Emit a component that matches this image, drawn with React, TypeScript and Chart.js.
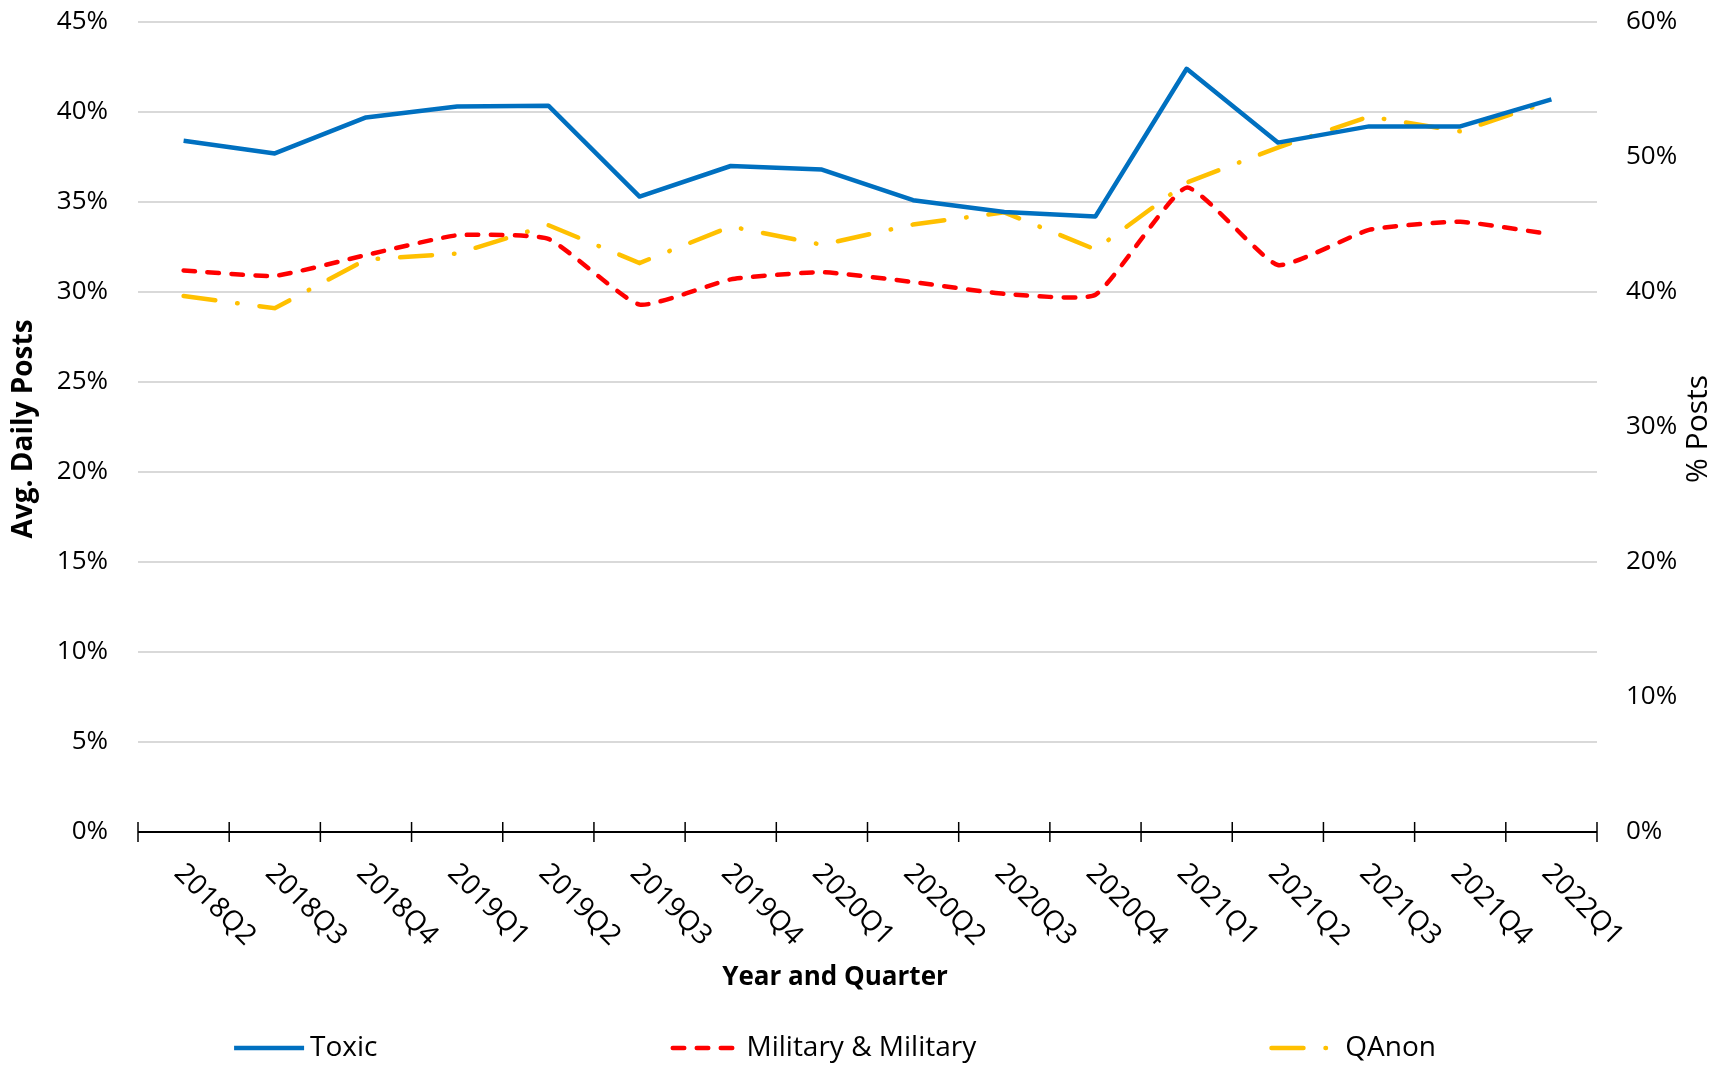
import React, { useEffect, useRef } from "react";
import { Chart, registerables } from "chart.js";

Chart.register(...registerables);

// ---------- data ----------
const categories = [
  "2018Q2", "2018Q3", "2018Q4", "2019Q1", "2019Q2", "2019Q3", "2019Q4", "2020Q1",
  "2020Q2", "2020Q3", "2020Q4", "2021Q1", "2021Q2", "2021Q3", "2021Q4", "2022Q1",
];
// left axis (Avg. Daily Posts, %)
const toxic = [38.4, 37.7, 39.7, 40.3, 40.35, 35.3, 37.0, 36.8, 35.1, 34.45, 34.2, 42.4, 38.3, 39.2, 39.2, 40.7];
const military = [31.2, 30.9, 32.05, 33.15, 32.95, 29.3, 30.7, 31.1, 30.55, 29.9, 29.85, 35.8, 31.5, 33.45, 33.9, 33.2];
// right axis (% Posts)
const qanon = [39.7, 38.8, 42.4, 42.85, 44.95, 42.15, 44.85, 43.5, 45.0, 45.9, 43.15, 48.1, 50.7, 53.0, 51.9, 54.15];

const seriesNames = ["Toxic", "Military & Military", "QAnon"];
const leftAxis = { min: 0, max: 45, step: 5 };
const rightAxis = { min: 0, max: 60, step: 10 };
const leftTitle = "Avg. Daily Posts";
const rightTitle = "% Posts";
const xTitle = "Year and Quarter";

// ---------- style ----------
const FONT = "'Open Sans', 'Noto Sans', sans-serif";
const W = 1723;
const H = 1066;
const colors = { toxic: "#0070C0", military: "#FF0000", qanon: "#FFC000" };

const customPlugin = {
  id: "excelDecor",
  afterDraw(chart: any) {
    const { ctx, chartArea, scales } = chart;
    const xs = scales.x;
    const y0 = chartArea.bottom;
    const n = categories.length;
    const step = (chartArea.right - chartArea.left) / n;
    ctx.save();
    // axis line
    ctx.strokeStyle = "#000";
    ctx.lineWidth = 2;
    ctx.beginPath();
    ctx.moveTo(chartArea.left, y0);
    ctx.lineTo(chartArea.right, y0);
    ctx.stroke();
    // tick marks
    ctx.lineWidth = 1.5;
    for (let i = 0; i <= n; i++) {
      const px = chartArea.left + i * step;
      ctx.beginPath();
      ctx.moveTo(px, y0 - 10);
      ctx.lineTo(px, y0 + 10);
      ctx.stroke();
    }
    // x tick labels rotated 45deg clockwise
    ctx.fillStyle = "#000";
    ctx.font = `28px ${FONT}`;
    ctx.textAlign = "left";
    ctx.textBaseline = "top";
    for (let i = 0; i < n; i++) {
      const cx = xs.getPixelForValue(i);
      ctx.save();
      ctx.translate(cx + 5, y0 + 27);
      ctx.rotate(Math.PI / 4);
      ctx.fillText(categories[i], 0, 0);
      ctx.restore();
    }
    // x title
    ctx.font = `bold 26px ${FONT}`;
    ctx.textAlign = "center";
    ctx.textBaseline = "middle";
    ctx.fillText(xTitle, 835, 978);
    // left title
    ctx.save();
    ctx.font = `bold 28px ${FONT}`;
    ctx.translate(24, (chartArea.top + chartArea.bottom) / 2 + 2);
    ctx.rotate(-Math.PI / 2);
    ctx.fillText(leftTitle, 0, 0);
    ctx.restore();
    // right title
    ctx.save();
    ctx.font = `30px ${FONT}`;
    ctx.translate(1698, (chartArea.top + chartArea.bottom) / 2 + 2);
    ctx.rotate(-Math.PI / 2);
    ctx.fillText(rightTitle, 0, 0);
    ctx.restore();

    // legend
    const ly = 1048;
    const sample = 70;
    const gapText = 6;
    const gapItem = 293;
    ctx.font = `28px ${FONT}`;
    const ds = chart.data.datasets;
    const widths = ds.map((d: any) => sample + gapText + ctx.measureText(d.label).width);
    const total = widths.reduce((a: number, b: number) => a + b, 0) + gapItem * (ds.length - 1);
    let lx = 835 - total / 2;
    ds.forEach((d: any, k: number) => {
      ctx.save();
      ctx.strokeStyle = d.borderColor;
      ctx.lineWidth = d.borderWidth;
      ctx.lineCap = d.borderCapStyle || "butt";
      ctx.setLineDash(d.borderDash || []);
      ctx.beginPath();
      const inset = d.borderCapStyle === "round" ? d.borderWidth / 2 : 0;
      ctx.moveTo(lx + inset, ly);
      ctx.lineTo(lx + sample - inset, ly);
      ctx.stroke();
      ctx.restore();
      ctx.textAlign = "left";
      ctx.textBaseline = "middle";
      ctx.fillStyle = "#000";
      ctx.fillText(d.label, lx + sample + gapText, ly);
      lx += widths[k] + gapItem;
    });
    ctx.restore();
  },
};

export default function App() {
  const canvasRef = useRef<HTMLCanvasElement | null>(null);

  useEffect(() => {
    const canvas = canvasRef.current;
    if (!canvas) return;
    const chart = new Chart(canvas, {
      type: "line",
      data: {
        labels: categories,
        datasets: [
          {
            label: seriesNames[0],
            data: toxic,
            yAxisID: "y",
            borderColor: colors.toxic,
            backgroundColor: colors.toxic,
            borderWidth: 4.5,
            pointRadius: 0,
            tension: 0,
            borderJoinStyle: "round",
          },
          {
            label: seriesNames[1],
            data: military,
            yAxisID: "y",
            borderColor: colors.military,
            backgroundColor: colors.military,
            borderWidth: 4.5,
            borderDash: [11.5, 12.5],
            borderCapStyle: "round",
            pointRadius: 0,
            tension: 0.15,
          },
          {
            label: seriesNames[2],
            data: qanon,
            yAxisID: "y1",
            borderColor: colors.qanon,
            backgroundColor: colors.qanon,
            borderWidth: 4.5,
            borderDash: [32, 22, 0.5, 22],
            borderCapStyle: "round",
            pointRadius: 0,
            tension: 0,
          },
        ],
      },
      options: {
        animation: false,
        responsive: false,
        maintainAspectRatio: false,
        devicePixelRatio: 1,
        layout: { padding: { top: 22, left: 0, right: 0, bottom: 0 } },
        plugins: {
          legend: { display: false },
          tooltip: { enabled: false },
        },
        scales: {
          x: {
            type: "category",
            offset: true,
            grid: { display: false },
            border: { display: false },
            ticks: { display: false },
            afterFit: (s: any) => {
              s.height = H - 832;
            },
          },
          y: {
            position: "left",
            min: leftAxis.min,
            max: leftAxis.max,
            grid: { color: "#d9d9d9", lineWidth: 2, drawTicks: false },
            border: { display: false },
            ticks: {
              stepSize: leftAxis.step,
              padding: 30,
              color: "#000",
              font: { family: FONT, size: 26 },
              callback: (v: any) => `${v}%`,
            },
            afterFit: (s: any) => {
              s.width = 138;
              s.paddingTop = 0;
              s.paddingBottom = 0;
            },
          },
          y1: {
            position: "right",
            min: rightAxis.min,
            max: rightAxis.max,
            grid: { display: false, drawTicks: false },
            border: { display: false },
            ticks: {
              stepSize: rightAxis.step,
              padding: 29,
              color: "#000",
              font: { family: FONT, size: 26 },
              callback: (v: any) => `${v}%`,
            },
            afterFit: (s: any) => {
              s.width = W - 1597;
              s.paddingTop = 0;
              s.paddingBottom = 0;
            },
          },
        },
      },
      plugins: [customPlugin],
    } as any);
    return () => chart.destroy();
  }, []);

  return (
    <div style={{ position: "fixed", left: 0, top: 0, width: W, height: H, background: "#fff" }}>
      <canvas ref={canvasRef} width={W} height={H} style={{ display: "block", width: W, height: H }} />
    </div>
  );
}
